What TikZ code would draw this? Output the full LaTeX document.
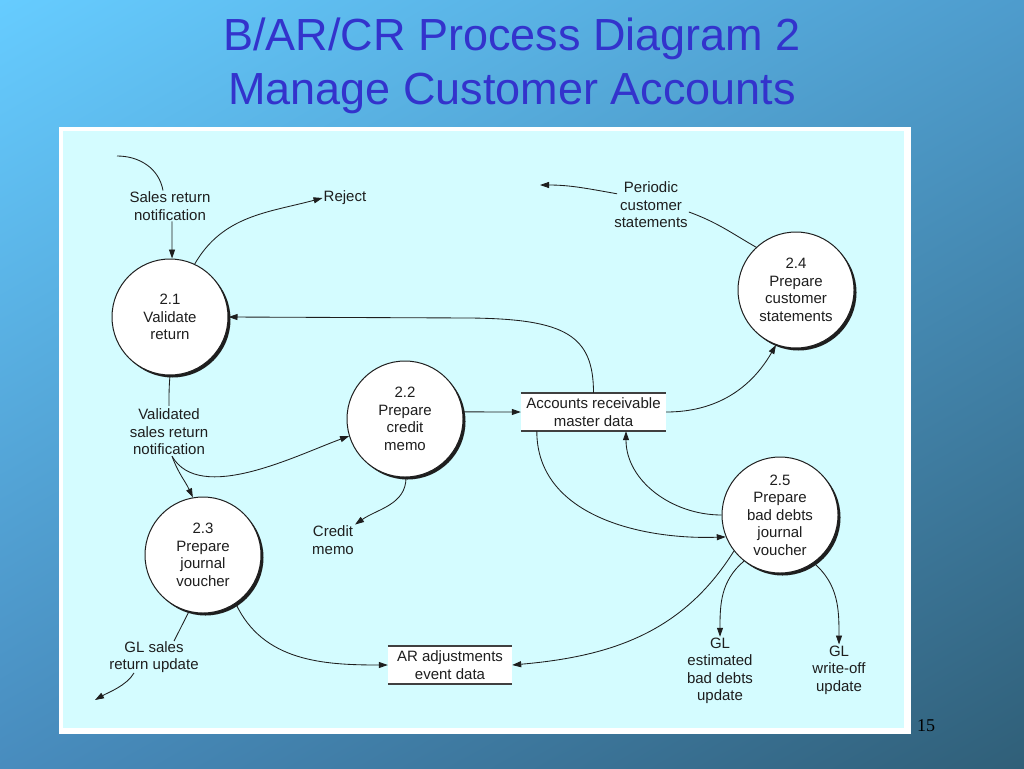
\documentclass[tikz,border=0pt]{standalone}
\usepackage{fontspec}
\setmainfont{Liberation Sans}
\newfontfamily\pagenumfont{Liberation Serif}
\usetikzlibrary{arrows.meta,shadows,shadings,calc}
\definecolor{bgTL}{RGB}{102,204,255}
\definecolor{bgTR}{RGB}{78,156,205}
\definecolor{bgBL}{RGB}{72,140,190}
\definecolor{bgBR}{RGB}{48,95,120}
\definecolor{panelfill}{RGB}{212,252,255}
\definecolor{titleblue}{RGB}{51,51,204}
\definecolor{ink}{RGB}{30,30,30}
\begin{document}
\begin{tikzpicture}[x=1pt,y=-1pt,
  every node/.style={font=\fontsize{15}{17.5}\selectfont, text=ink},
  proc/.style={circle, draw=ink, line width=1pt, fill=white, minimum size=116pt, inner sep=0pt, align=center,
    drop shadow={shadow xshift=2.5pt, shadow yshift=-2.5pt, opacity=1, fill=ink}},
  store/.style={rectangle, fill=white, inner sep=0pt, align=center},
  storeline/.style={draw=ink!85, line width=1.5pt},
  lbl/.style={align=center, inner sep=1pt},
  flow/.style={draw=ink, line width=0.85pt},
  arr/.style={flow, -{Triangle[length=9pt,width=6pt]}},
  titletext/.style={font=\fontsize{45}{53}\selectfont, text=titleblue, anchor=base}]
\useasboundingbox (0,0) rectangle (1024,768);
% background
\shade[upper left=bgTL, upper right=bgTR, lower left=bgBL, lower right=bgBR] (0,0) rectangle (1024,768);
% title
\node[titletext] (title1) at (512,51) {B/AR/CR Process Diagram 2};
\node[titletext] (title2) at (512,104) {Manage Customer Accounts};
% panel
\fill[white] (59,127) rectangle (911,734);
\fill[panelfill] (63,131) rectangle (904,728);
\node[font=\pagenumfont\fontsize{18}{20}\selectfont, text=black] (pnum) at (926,726) {15};

% processes
\node[proc] (c21) at (170,317) {2.1\\Validate\\return};
\node[proc] (c22) at (405,419) {2.2\\Prepare\\credit\\memo};
\node[proc] (c23) at (203,555) {2.3\\Prepare\\journal\\voucher};
\node[proc] (c24) at (796,290) {2.4\\Prepare\\customer\\statements};
\node[proc] (c25) at (780,515) {2.5\\Prepare\\bad debts\\journal\\voucher};

% data stores
\node[store, minimum width=145pt, minimum height=38pt] (ar) at (593.5,412) {Accounts receivable\\master data};
\draw[storeline] (ar.north west) -- (ar.north east) (ar.south west) -- (ar.south east);
\node[store, minimum width=124pt, minimum height=38pt] (adj) at (450,665) {AR adjustments\\event data};
\draw[storeline] (adj.north west) -- (adj.north east) (adj.south west) -- (adj.south east);

% labels
\node[lbl] (lSales) at (170,206) {Sales return\\notification};
\node[lbl] (lReject) at (345,198) {Reject};
\node[lbl] (lPer) at (651,205) {Periodic\\customer\\statements};
\node[lbl] (lVal) at (169,432) {Validated\\sales return\\notification};
\node[lbl] (lCredit) at (333,540) {Credit\\memo};
\node[lbl] (lGLs) at (154,657) {GL sales\\return update};
\node[lbl] (lGLe) at (720,671) {GL\\estimated\\bad debts\\update};
\node[lbl] (lGLw) at (839,670) {GL\\write-off\\update};

% free ends
\coordinate (inSales) at (117,156);
\coordinate (outPer) at (540,185);
\coordinate (outGLs) at (95,700);

% flows
\draw[flow] (inSales) to[out=0,in=100] ([xshift=-7pt]lSales.north);
\draw[arr] ([xshift=2pt]lSales.south) -- (c21.88);
\draw[arr] (c21.65) to[out=60,in=195] (lReject.west);
\draw[arr] (ar.north) .. controls (593.5,335) and (565,319) .. (470,318) -- (c21.east);
\draw[flow] (c21.270) to[out=-95,in=90] ([yshift=2pt]lVal.north);
\draw[arr] ([xshift=3pt]lVal.south) to[out=-70,in=115] (c23.100);
\draw[arr] ([xshift=3pt]lVal.south) to[out=-60,in=200,looseness=0.8] (c22.197);
\draw[arr] (c22.7) -- (ar.west);
\draw[arr] (c22.271) to[out=-90,in=35] (lCredit.north east);
\draw[arr] (ar.east) to[out=0,in=240] (c24.250);
\draw[flow] (c24.133) to[out=150,in=-20] ([yshift=-7pt]lPer.east);
\draw[arr] ([xshift=4pt,yshift=-13pt]lPer.north west) to[out=170,in=0] (outPer);
\draw[arr] ([xshift=16pt]ar.south west) to[out=-90,in=182] (c25.202);
\draw[arr] (c25.west) to[out=180,in=-90] ([xshift=32.5pt]ar.south);
\draw[arr] (c25.218) to[out=238,in=5] (adj.east);
\draw[arr] (c23.304) to[out=-65,in=180] (adj.west);
\draw[flow] (c23.256) -- ([xshift=20pt,yshift=-1pt]lGLs.north);
\draw[arr] ([xshift=-20pt,yshift=1pt]lGLs.south) to[out=-120,in=30,looseness=0.8] (outGLs);
\draw[arr] (c25.232) to[out=220,in=90] (lGLe.north);
\draw[arr] (c25.305) to[out=-40,in=90] (lGLw.north);
\end{tikzpicture}
\end{document}
